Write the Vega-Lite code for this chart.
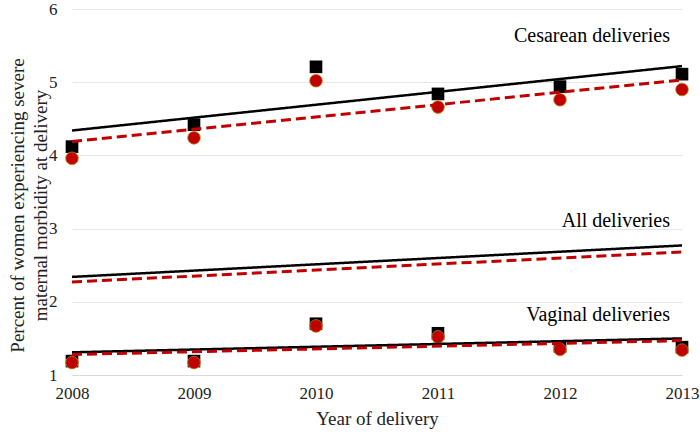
{
  "$schema": "https://vega.github.io/schema/vega-lite/v6.json",
  "width": 610,
  "height": 366,
  "autosize": {"type": "none"},
  "padding": {"left": 72, "top": 9, "right": 18, "bottom": 59},
  "background": "white",
  "config": {
    "view": {"stroke": null},
    "font": "'Liberation Serif', 'Times New Roman', 'DejaVu Serif', serif",
    "axis": {"labelFont": "'Liberation Serif', 'Times New Roman', 'DejaVu Serif', serif", "titleFont": "'Liberation Serif', 'Times New Roman', 'DejaVu Serif', serif", "titleFontWeight": "normal", "labelColor": "#222", "titleColor": "#222"}
  },
  "datasets": {
    "pts": [
      {"year": 2008, "value": 4.12, "kind": "crude", "group": "Cesarean"},
      {"year": 2009, "value": 4.42, "kind": "crude", "group": "Cesarean"},
      {"year": 2010, "value": 5.21, "kind": "crude", "group": "Cesarean"},
      {"year": 2011, "value": 4.84, "kind": "crude", "group": "Cesarean"},
      {"year": 2012, "value": 4.94, "kind": "crude", "group": "Cesarean"},
      {"year": 2013, "value": 5.11, "kind": "crude", "group": "Cesarean"},
      {"year": 2008, "value": 3.96, "kind": "adjusted", "group": "Cesarean"},
      {"year": 2009, "value": 4.24, "kind": "adjusted", "group": "Cesarean"},
      {"year": 2010, "value": 5.02, "kind": "adjusted", "group": "Cesarean"},
      {"year": 2011, "value": 4.66, "kind": "adjusted", "group": "Cesarean"},
      {"year": 2012, "value": 4.76, "kind": "adjusted", "group": "Cesarean"},
      {"year": 2013, "value": 4.90, "kind": "adjusted", "group": "Cesarean"},
      {"year": 2008, "value": 1.19, "kind": "crude", "group": "Vaginal"},
      {"year": 2009, "value": 1.19, "kind": "crude", "group": "Vaginal"},
      {"year": 2010, "value": 1.70, "kind": "crude", "group": "Vaginal"},
      {"year": 2011, "value": 1.57, "kind": "crude", "group": "Vaginal"},
      {"year": 2012, "value": 1.39, "kind": "crude", "group": "Vaginal"},
      {"year": 2013, "value": 1.38, "kind": "crude", "group": "Vaginal"},
      {"year": 2008, "value": 1.17, "kind": "adjusted", "group": "Vaginal"},
      {"year": 2009, "value": 1.17, "kind": "adjusted", "group": "Vaginal"},
      {"year": 2010, "value": 1.67, "kind": "adjusted", "group": "Vaginal"},
      {"year": 2011, "value": 1.52, "kind": "adjusted", "group": "Vaginal"},
      {"year": 2012, "value": 1.35, "kind": "adjusted", "group": "Vaginal"},
      {"year": 2013, "value": 1.34, "kind": "adjusted", "group": "Vaginal"}
    ],
    "trend": [
      {"year": 2008, "value": 4.34, "kind": "crude", "group": "Cesarean"},
      {"year": 2013, "value": 5.22, "kind": "crude", "group": "Cesarean"},
      {"year": 2008, "value": 4.19, "kind": "adjusted", "group": "Cesarean"},
      {"year": 2013, "value": 5.03, "kind": "adjusted", "group": "Cesarean"},
      {"year": 2008, "value": 2.34, "kind": "crude", "group": "All"},
      {"year": 2013, "value": 2.77, "kind": "crude", "group": "All"},
      {"year": 2008, "value": 2.27, "kind": "adjusted", "group": "All"},
      {"year": 2013, "value": 2.68, "kind": "adjusted", "group": "All"},
      {"year": 2008, "value": 1.31, "kind": "crude", "group": "Vaginal"},
      {"year": 2013, "value": 1.50, "kind": "crude", "group": "Vaginal"},
      {"year": 2008, "value": 1.28, "kind": "adjusted", "group": "Vaginal"},
      {"year": 2013, "value": 1.47, "kind": "adjusted", "group": "Vaginal"}
    ],
    "labels": [
      {"year": 2013, "value": 5.63, "label": "Cesarean deliveries"},
      {"year": 2013, "value": 3.1, "label": "All deliveries"},
      {"year": 2013, "value": 1.82, "label": "Vaginal deliveries"}
    ]
  },
  "encoding": {
    "x": {
      "field": "year", "type": "quantitative",
      "scale": {"domain": [2008, 2013], "nice": false, "zero": false},
      "axis": {"title": "Year of delivery", "values": [2008, 2009, 2010, 2011, 2012, 2013], "format": "d", "grid": false, "ticks": false, "domainColor": "#d9d9d9", "labelFontSize": 17, "titleFontSize": 19, "labelPadding": 10, "titlePadding": 8, "labelFlush": false}
    },
    "y": {
      "field": "value", "type": "quantitative",
      "scale": {"domain": [1, 6], "nice": false, "zero": false},
      "axis": {"title": ["Percent of women experiencing severe", "maternal morbidity at delivery"], "values": [1, 2, 3, 4, 5, 6], "grid": true, "gridColor": "#e6e6e6", "domain": false, "ticks": false, "labelFontSize": 17, "titleFontSize": 19, "labelPadding": 15, "titleX": -55, "titleY": 196, "titleBaseline": "middle", "titleLineHeight": 23}
    }
  },
  "layer": [
    {
      "data": {"name": "pts"},
      "transform": [{"filter": "datum.kind == 'crude'"}],
      "mark": {"type": "point", "shape": "square", "filled": true, "color": "black", "size": 160, "opacity": 1}
    },
    {
      "data": {"name": "pts"},
      "transform": [{"filter": "datum.kind == 'adjusted'"}],
      "mark": {"type": "point", "shape": "circle", "filled": true, "color": "#C00000", "size": 160, "opacity": 1, "stroke": "#B8860B", "strokeWidth": 0.8}
    },
    {
      "data": {"name": "trend"},
      "mark": {"type": "line"},
      "encoding": {
        "detail": {"field": "group"},
        "color": {"field": "kind", "type": "nominal", "scale": {"domain": ["crude", "adjusted"], "range": ["black", "#C00000"]}, "legend": null},
        "strokeWidth": {"field": "kind", "type": "nominal", "scale": {"domain": ["crude", "adjusted"], "range": [2.5, 3]}, "legend": null},
        "strokeDash": {"field": "kind", "type": "nominal", "scale": {"domain": ["crude", "adjusted"], "range": [[1, 0], [10, 5]]}, "legend": null}
      }
    },
    {
      "data": {"name": "labels"},
      "mark": {"type": "text", "align": "right", "baseline": "middle", "dx": -12, "fontSize": 20, "font": "'Liberation Serif', 'Times New Roman', 'DejaVu Serif', serif", "color": "black"},
      "encoding": {"text": {"field": "label"}}
    }
  ]
}
